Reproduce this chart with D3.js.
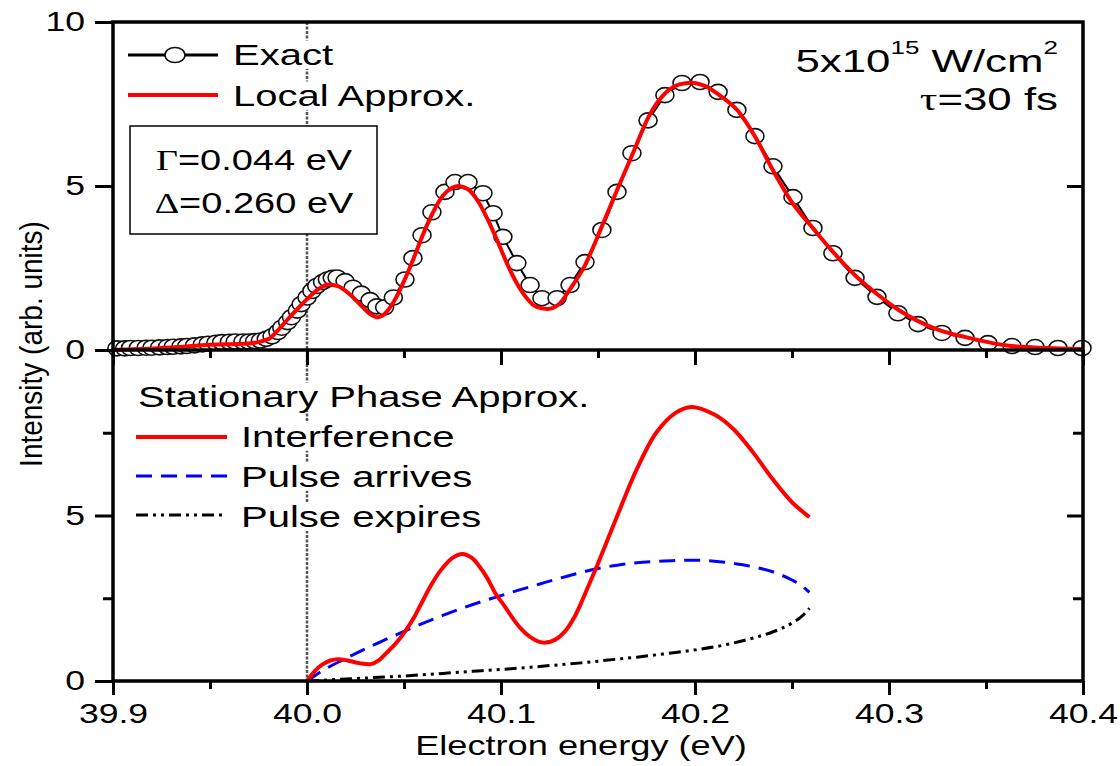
<!DOCTYPE html>
<html>
<head>
<meta charset="utf-8">
<script src="https://cdn.jsdelivr.net/npm/d3@7"></script>
<style>
  body { margin: 0; background: #fff; }
  svg { display: block; font-family: "Liberation Sans", Arial, sans-serif; }
</style>
</head>
<body>
<div id="grafico"></div>
<script>
// ---- dados ----
const xMajor = [39.9, 40.0, 40.1, 40.2, 40.3, 40.4];
const xMinor = [39.95, 40.05, 40.15, 40.25, 40.35];
const yTopTicks = [0, 5, 10];
const yBotTicks = [0, 5];
const yBotMinor = [2.5, 7.5];

// painel de cima: Exact (circulos)
const exactE = [39.902, 39.906, 39.909, 39.913, 39.917, 39.920, 39.924, 39.928, 39.931, 39.935,
  39.938, 39.942, 39.946, 39.949, 39.953, 39.956, 39.960, 39.963, 39.967, 39.970,
  39.973, 39.976, 39.979, 39.982, 39.985, 39.987, 39.990, 39.992, 39.995, 39.997,
  40.000, 40.0025, 40.005, 40.008, 40.0105, 40.013, 40.0155, 40.0196, 40.0237, 40.028,
  40.0325, 40.036, 40.040, 40.0445, 40.0505, 40.0546, 40.0593, 40.0644, 40.0711, 40.0763,
  40.083, 40.0907, 40.0959, 40.101, 40.1082, 40.115, 40.1211, 40.1289, 40.1356, 40.1433,
  40.152, 40.1598, 40.1675, 40.1758, 40.1845, 40.1933, 40.2026, 40.2119, 40.2216, 40.2309,
  40.2402, 40.2505, 40.2608, 40.2711, 40.2825, 40.2938, 40.3046, 40.315, 40.3273, 40.3392,
  40.351, 40.3634, 40.3753, 40.3871, 40.3995];
const exactI = [0.05, 0.05, 0.06, 0.06, 0.07, 0.07, 0.08, 0.09, 0.10, 0.11,
  0.12, 0.14, 0.17, 0.19, 0.22, 0.24, 0.25, 0.26, 0.26, 0.26,
  0.27, 0.29, 0.34, 0.42, 0.55, 0.68, 0.85, 1.0, 1.2, 1.4,
  1.6, 1.8, 1.95, 2.07, 2.15, 2.2, 2.21, 2.1, 1.9, 1.72,
  1.52, 1.33, 1.3, 1.6, 2.15, 2.8, 3.5, 4.2, 4.82, 5.12,
  5.12, 4.78, 4.17, 3.45, 2.65, 1.98, 1.58, 1.58, 1.98, 2.68,
  3.66, 4.82, 6.0, 7.0, 7.77, 8.14, 8.17, 7.87, 7.32, 6.52,
  5.6, 4.66, 3.72, 2.95, 2.2, 1.62, 1.12, 0.79, 0.52, 0.37,
  0.21, 0.12, 0.09, 0.06, 0.06];

// painel de cima: Local Approx. (linha vermelha)
const localE = [39.90, 39.91, 39.93, 39.95, 39.97, 39.98, 39.985, 39.99, 39.995,
  40.0, 40.005, 40.011, 40.016, 40.022, 40.028, 40.033, 40.036, 40.04, 40.045,
  40.05, 40.055, 40.06, 40.065, 40.07, 40.075, 40.078, 40.083, 40.088, 40.093,
  40.098, 40.103, 40.108, 40.113, 40.118, 40.124, 40.13, 40.1355, 40.143, 40.152,
  40.16, 40.168, 40.176, 40.185, 40.192, 40.198, 40.205, 40.213, 40.222, 40.231,
  40.24, 40.25, 40.261, 40.271, 40.283, 40.294, 40.305, 40.315, 40.327, 40.339,
  40.351, 40.363, 40.375, 40.4];
const localI = [0, 0.02, 0.08, 0.16, 0.2, 0.33, 0.6, 0.93, 1.25,
  1.55, 1.82, 2.0, 1.95, 1.7, 1.35, 1.08, 1.0, 1.1, 1.5,
  2.1, 2.8, 3.55, 4.2, 4.7, 4.95, 5.0, 4.9, 4.55, 4.0,
  3.35, 2.65, 2.05, 1.6, 1.32, 1.25, 1.4, 1.85, 2.55, 3.77,
  4.9, 6.0, 7.1, 7.85, 8.1, 8.15, 8.05, 7.75, 7.3, 6.5,
  5.5, 4.5, 3.7, 3.0, 2.25, 1.7, 1.22, 0.88, 0.58, 0.4,
  0.24, 0.12, 0.08, 0.03];

// painel de baixo: Interference
const interfE = [40.0, 40.004, 40.008, 40.012, 40.016, 40.021, 40.027, 40.033, 40.037, 40.041,
  40.046, 40.0506, 40.055, 40.059, 40.064, 40.069, 40.075, 40.08, 40.085, 40.089,
  40.093, 40.097, 40.102, 40.106, 40.11, 40.115, 40.119, 40.123, 40.128, 40.133,
  40.138, 40.142, 40.146, 40.15, 40.16, 40.17, 40.18, 40.19, 40.198,
  40.21, 40.22, 40.23, 40.24, 40.25, 40.259];
const interfI = [0, 0.3, 0.5, 0.62, 0.66, 0.62, 0.54, 0.51, 0.62, 0.85,
  1.15, 1.5, 1.9, 2.35, 2.9, 3.35, 3.72, 3.84, 3.72, 3.45,
  3.1, 2.66, 2.25, 1.9, 1.6, 1.33, 1.2, 1.16, 1.25, 1.5,
  1.95, 2.45, 3.0, 3.55, 5.0, 6.4, 7.5, 8.1, 8.28,
  8.05, 7.6, 6.9, 6.1, 5.4, 4.95];

// painel de baixo: Pulse arrives / Pulse expires
const pulseE = [40.0, 40.005, 40.01, 40.02, 40.03, 40.04, 40.05, 40.06, 40.07, 40.08,
  40.09, 40.1, 40.11, 40.12, 40.13, 40.14, 40.15, 40.16, 40.17, 40.18,
  40.19, 40.2, 40.21, 40.22, 40.23, 40.24, 40.25, 40.255, 40.259];
const arrivesI = [0, 0.2, 0.38, 0.68, 0.97, 1.24, 1.5, 1.75, 1.98, 2.2,
  2.4, 2.58, 2.76, 2.93, 3.1, 3.26, 3.4, 3.5, 3.57, 3.61,
  3.64, 3.65, 3.62, 3.55, 3.45, 3.3, 3.05, 2.88, 2.68];
const expiresI = [0, 0.015, 0.03, 0.06, 0.09, 0.12, 0.15, 0.19, 0.23, 0.27,
  0.31, 0.35, 0.39, 0.44, 0.49, 0.54, 0.6, 0.66, 0.72, 0.79,
  0.86, 0.94, 1.03, 1.15, 1.3, 1.48, 1.75, 1.95, 2.2];

const largura = 1120, altura = 766;
const svg = d3.select("#grafico").append("svg")
    .attr("width", largura)
    .attr("height", altura);

// escalas
const x = d3.scaleLinear().domain([39.9, 40.4]).range([113, 1083]);
const yTop = d3.scaleLinear().domain([0, 10]).range([350, 22]);
const yBot = d3.scaleLinear().domain([0, 10]).range([681, 350]);

const pares = (es, is) => es.map((e, i) => [e, is[i]]);

// texto "esticado" na horizontal (a figura original e mais larga)
function texto(parent, px, py, k, anchor, size) {
    return parent.append("g")
        .attr("transform", `translate(${px},${py}) scale(${k},1)`)
        .append("text")
        .attr("text-anchor", anchor)
        .style("font-size", size + "px")
        .attr("fill", "#000");
}
// texto de legenda com fundo branco (esconde a linha pontilhada)
function textoLegenda(parent, px, py, str) {
    const wrap = parent.append("g");
    texto(wrap, px, py, 1.38, "start", 29).text(str);
    const b = wrap.node().getBBox();
    wrap.insert("rect", ":first-child")
        .attr("x", b.x - 3).attr("y", b.y + 2)
        .attr("width", b.width + 6).attr("height", b.height - 4)
        .attr("fill", "#fff");
}

// linha pontilhada vertical em 40.0
svg.append("line")
    .attr("x1", x(40.0)).attr("x2", x(40.0))
    .attr("y1", yTop(10)).attr("y2", yBot(0))
    .attr("stroke", "#555")
    .attr("stroke-width", 2.5)
    .attr("stroke-dasharray", "3,1.5");

// ---- painel de cima ----
const exact = pares(exactE, exactI);
svg.append("path")
    .datum(exact)
    .attr("fill", "none")
    .attr("stroke", "#000")
    .attr("stroke-width", 2)
    .attr("d", d3.line().x(d => x(d[0])).y(d => yTop(d[1])));

svg.selectAll(".circulo")
    .data(exact)
    .enter()
    .append("ellipse")
    .attr("class", "circulo")
    .attr("cx", d => x(d[0]))
    .attr("cy", d => yTop(d[1]))
    .attr("rx", 9).attr("ry", 7.5)
    .attr("fill", "#fff")
    .attr("stroke", "#111")
    .attr("stroke-width", 1.6);

svg.append("path")
    .datum(pares(localE, localI))
    .attr("fill", "none")
    .attr("stroke", "#ff0000")
    .attr("stroke-width", 4)
    .attr("d", d3.line().curve(d3.curveMonotoneX).x(d => x(d[0])).y(d => yTop(d[1])));

// ---- painel de baixo ----
const linhaBot = d3.line().curve(d3.curveMonotoneX).x(d => x(d[0])).y(d => yBot(d[1]));
svg.append("path")
    .datum(pares(pulseE, arrivesI))
    .attr("fill", "none")
    .attr("stroke", "#0000ff")
    .attr("stroke-width", 3)
    .attr("stroke-dasharray", "16,9")
    .attr("d", linhaBot);
svg.append("path")
    .datum(pares(pulseE, expiresI))
    .attr("fill", "none")
    .attr("stroke", "#000")
    .attr("stroke-width", 3)
    .attr("stroke-dasharray", "12,5,3,5,3,5")
    .attr("d", linhaBot);
svg.append("path")
    .datum(pares(interfE, interfI))
    .attr("fill", "none")
    .attr("stroke", "#ff0000")
    .attr("stroke-width", 4)
    .attr("d", d3.line().curve(d3.curveCatmullRom.alpha(0.5)).x(d => x(d[0])).y(d => yBot(d[1])));

// ---- eixos ----
function estiloEixo(g) {
    g.select(".domain").remove();
    g.selectAll(".tick line").attr("stroke", "#000").attr("stroke-width", 3);
}
const fmtX = d3.format(".1f");

svg.append("g")
    .attr("transform", `translate(0,${yBot(0)})`)
    .call(d3.axisBottom(x).tickValues(xMajor).tickSize(14).tickPadding(8).tickFormat(fmtX))
    .call(estiloEixo)
    .call(g => g.selectAll(".tick text")
        .attr("fill", "#000")
        .style("font-size", "28px")
        .style("font-family", "Liberation Sans, Arial, sans-serif")
        .attr("transform", "scale(1.27,1)"));
svg.append("g")
    .attr("transform", `translate(0,${yBot(0)})`)
    .call(d3.axisBottom(x).tickValues(xMinor).tickSize(8).tickFormat(""))
    .call(estiloEixo);

// ticks do eixo do meio (apontam para baixo)
svg.append("g")
    .attr("transform", `translate(0,${yTop(0)})`)
    .call(d3.axisBottom(x).tickValues(xMajor).tickSize(15).tickFormat(""))
    .call(estiloEixo);
svg.append("g")
    .attr("transform", `translate(0,${yTop(0)})`)
    .call(d3.axisBottom(x).tickValues(xMinor).tickSize(8).tickFormat(""))
    .call(estiloEixo);

function rotulosY(g) {
    g.selectAll(".tick text")
        .attr("x", null)
        .attr("fill", "#000")
        .style("font-size", "28px")
        .style("font-family", "Liberation Sans, Arial, sans-serif")
        .attr("transform", "translate(-28,0) scale(1.27,1)");
}
svg.append("g")
    .attr("transform", `translate(${x(39.9)},0)`)
    .call(d3.axisLeft(yTop).tickValues(yTopTicks).tickSize(18).tickFormat(d3.format("d")))
    .call(estiloEixo).call(rotulosY);
svg.append("g")
    .attr("transform", `translate(${x(39.9)},0)`)
    .call(d3.axisLeft(yBot).tickValues(yBotTicks).tickSize(18).tickFormat(d3.format("d")))
    .call(estiloEixo).call(rotulosY);
svg.append("g")
    .attr("transform", `translate(${x(39.9)},0)`)
    .call(d3.axisLeft(yBot).tickValues(yBotMinor).tickSize(10).tickFormat(""))
    .call(estiloEixo);

// eixo direito: ticks para dentro
svg.append("g")
    .attr("transform", `translate(${x(40.4)},0)`)
    .call(d3.axisRight(yTop).tickValues([5]).tickSize(-16).tickFormat(""))
    .call(estiloEixo);
svg.append("g")
    .attr("transform", `translate(${x(40.4)},0)`)
    .call(d3.axisRight(yBot).tickValues([5]).tickSize(-16).tickFormat(""))
    .call(estiloEixo);
svg.append("g")
    .attr("transform", `translate(${x(40.4)},0)`)
    .call(d3.axisRight(yBot).tickValues(yBotMinor).tickSize(-10).tickFormat(""))
    .call(estiloEixo);

// moldura + linha do meio
svg.append("rect")
    .attr("x", x(39.9)).attr("y", yTop(10))
    .attr("width", x(40.4) - x(39.9))
    .attr("height", yBot(0) - yTop(10))
    .attr("fill", "none")
    .attr("stroke", "#000")
    .attr("stroke-width", 3.5);
svg.append("line")
    .attr("x1", x(39.9)).attr("x2", x(40.4))
    .attr("y1", yTop(0)).attr("y2", yTop(0))
    .attr("stroke", "#000")
    .attr("stroke-width", 3.5);

// titulos dos eixos
texto(svg, 581, 755, 1.34, "middle", 27).text("Electron energy (eV)");
svg.append("text")
    .attr("transform", "translate(42,344) scale(1.12,1) rotate(-90)")
    .attr("text-anchor", "middle")
    .style("font-size", "28px")
    .text("Intensity (arb. units)");

// ---- legenda de cima ----
const leg = svg.append("g");
leg.append("line").attr("x1", 128).attr("x2", 218).attr("y1", 55).attr("y2", 55)
    .attr("stroke", "#000").attr("stroke-width", 3);
leg.append("ellipse").attr("cx", 175).attr("cy", 55).attr("rx", 10).attr("ry", 7.5)
    .attr("fill", "#fff").attr("stroke", "#111").attr("stroke-width", 1.6);
textoLegenda(leg, 233, 65, "Exact");
leg.append("line").attr("x1", 128).attr("x2", 218).attr("y1", 95).attr("y2", 95)
    .attr("stroke", "#ff0000").attr("stroke-width", 4);
textoLegenda(leg, 233, 106, "Local Approx.");

// caixa com parametros
leg.append("rect").attr("x", 130).attr("y", 126).attr("width", 247).attr("height", 108)
    .attr("fill", "#fff").attr("stroke", "#000").attr("stroke-width", 1.5);
const t1 = texto(leg, 254, 170, 1.31, "middle", 29);
t1.append("tspan").style("font-family", "Liberation Serif, Times New Roman, serif").text("Γ");
t1.append("tspan").text("=0.044 eV");
const t2 = texto(leg, 254, 213, 1.31, "middle", 29);
t2.append("tspan").style("font-family", "Liberation Serif, Times New Roman, serif").text("Δ");
t2.append("tspan").text("=0.260 eV");

// anotacao do pulso
const a1 = texto(svg, 1058, 72, 1.37, "end", 32);
a1.append("tspan").text("5x10");
a1.append("tspan").attr("dy", -18).style("font-size", "19px").text("15");
a1.append("tspan").attr("dy", 18).text(" W/cm");
a1.append("tspan").attr("dy", -18).style("font-size", "19px").text("2");
const a2 = texto(svg, 1058, 110, 1.37, "end", 32);
a2.append("tspan").style("font-family", "Liberation Serif, Times New Roman, serif").text("τ");
a2.append("tspan").text("=30 fs");

// ---- legenda de baixo ----
const leg2 = svg.append("g");
textoLegenda(leg2, 138, 407, "Stationary Phase Approx.");
leg2.append("line").attr("x1", 136).attr("x2", 227).attr("y1", 437).attr("y2", 437)
    .attr("stroke", "#ff0000").attr("stroke-width", 4);
textoLegenda(leg2, 241, 447, "Interference");
leg2.append("line").attr("x1", 136).attr("x2", 227).attr("y1", 476).attr("y2", 476)
    .attr("stroke", "#0000ff").attr("stroke-width", 3).attr("stroke-dasharray", "16,9");
textoLegenda(leg2, 241, 487, "Pulse arrives");
leg2.append("line").attr("x1", 136).attr("x2", 227).attr("y1", 515).attr("y2", 515)
    .attr("stroke", "#000").attr("stroke-width", 3).attr("stroke-dasharray", "12,5,3,5,3,5");
textoLegenda(leg2, 241, 527, "Pulse expires");
</script>
</body>
</html>
